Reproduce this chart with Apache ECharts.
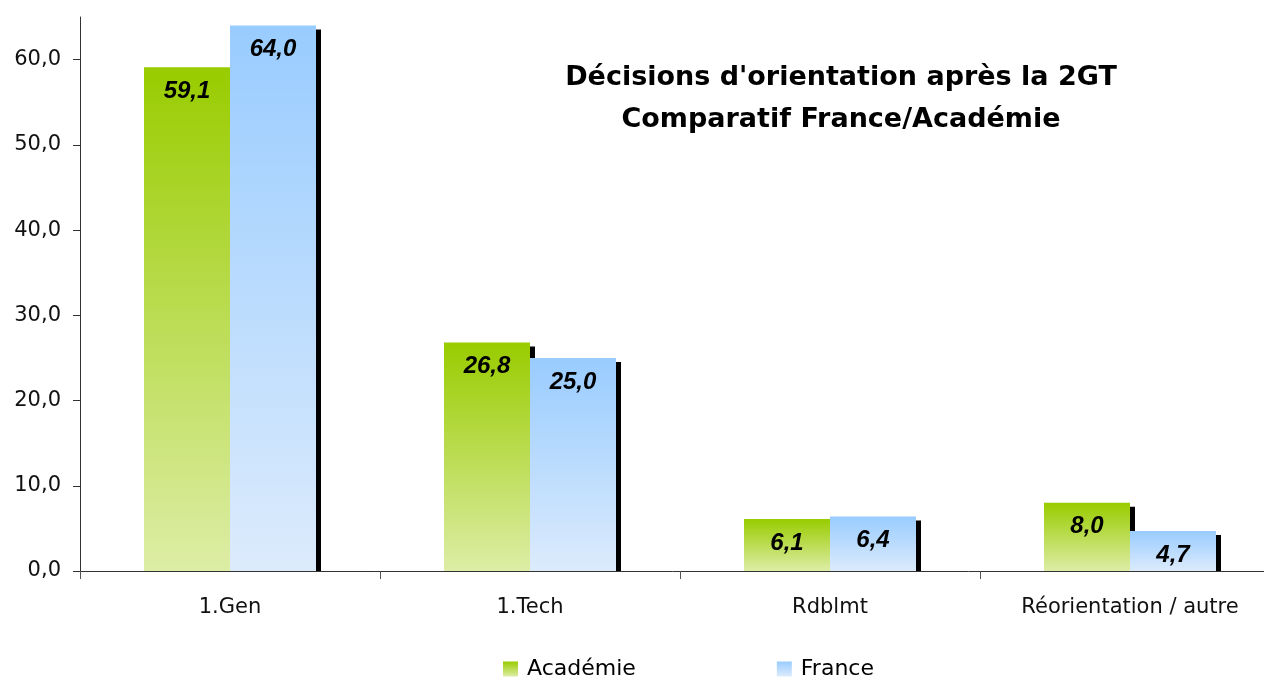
<!DOCTYPE html>
<html>
<head>
<meta charset="utf-8">
<script src="https://cdn.jsdelivr.net/npm/echarts@6/dist/echarts.min.js"></script>
<style>
html, body { margin: 0; padding: 0; background: #fff; }
#chart { width: 1264px; height: 679px; }
</style>
</head>
<body>
<div id="chart"></div>
<script>
// data
var categories = ['1.Gen', '1.Tech', 'Rdblmt', 'Réorientation / autre'];
var academie = [59.1, 26.8, 6.1, 8.0];
var france = [64.0, 25.0, 6.4, 4.7];
var yTicks = [0, 10, 20, 30, 40, 50, 60];

function fmt(v)
{
    return v.toFixed(1).replace('.', ',');
}

function grad(top, bottom)
{
    return new echarts.graphic.LinearGradient(0, 0, 0, 1, [
        {offset: 0, color: top},
        {offset: 1, color: bottom}
    ]);
}

var barLabel = {
    show: true,
    position: 'insideTop',
    distance: 12,
    fontFamily: 'Liberation Sans',
    fontSize: 24,
    fontWeight: 'bold',
    fontStyle: 'italic',
    color: '#000',
    formatter: function (p) { return fmt(p.value); }
};

var myChart = echarts.init(document.getElementById('chart'));
var option = {
    animation: false,
    textStyle: {fontFamily: 'DejaVu Sans'},
    title: {
        text: "Décisions d'orientation après la 2GT\nComparatif France/Académie",
        left: 836,
        top: 52,
        textAlign: 'center',
        textStyle: {
            fontFamily: 'DejaVu Sans',
            fontSize: 27,
            fontWeight: 'bold',
            color: '#000',
            lineHeight: 42
        }
    },
    legend: {
        left: 503,
        top: 658,
        padding: 0,
        itemWidth: 15,
        itemHeight: 15,
        itemGap: 141,
        icon: 'rect',
        textStyle: {fontFamily: 'DejaVu Sans', fontSize: 22, color: '#000', padding: [0, 0, 0, 4]},
        itemStyle: {shadowBlur: 0, shadowOffsetX: 0, shadowOffsetY: 0, shadowColor: 'transparent'},
        data: ['Académie', 'France']
    },
    grid: {left: 80, top: 17, width: 1200, height: 554, outerBoundsMode: 'none'},
    // white strip under the axis so the bar shadows stop at the baseline
    graphic: [{
        type: 'rect',
        z: 5,
        shape: {x: 81, y: 572, width: 1183, height: 6},
        style: {fill: '#fff'}
    }],
    xAxis: {
        type: 'category',
        data: categories,
        z: 10,
        axisLine: {lineStyle: {color: '#333', width: 1}},
        axisTick: {show: true, length: 8, lineStyle: {color: '#555'}},
        axisLabel: {fontSize: 21, color: '#111', margin: 26}
    },
    yAxis: {
        type: 'value',
        min: 0,
        max: 65,
        interval: 10,
        z: 10,
        splitLine: {show: false},
        axisLine: {show: true, lineStyle: {color: '#333', width: 1}},
        axisTick: {show: true, length: 7, customValues: yTicks, lineStyle: {color: '#333'}},
        axisLabel: {
            fontSize: 21,
            color: '#111',
            margin: 19,
            customValues: yTicks,
            formatter: function (v) { return fmt(v); }
        }
    },
    series: [
        {
            name: 'Académie',
            type: 'bar',
            data: academie,
            barWidth: 86,
            barGap: '0%',
            itemStyle: {
                color: grad('#99cc00', '#ddeda6'),
                shadowColor: '#000',
                shadowBlur: 0,
                shadowOffsetX: 5,
                shadowOffsetY: 4
            },
            label: barLabel
        },
        {
            name: 'France',
            type: 'bar',
            data: france,
            barWidth: 86,
            barGap: '0%',
            itemStyle: {
                color: grad('#99ccff', '#dcebfc'),
                shadowColor: '#000',
                shadowBlur: 0,
                shadowOffsetX: 5,
                shadowOffsetY: 4
            },
            label: barLabel
        }
    ]
};
myChart.setOption(option);
</script>
</body>
</html>
